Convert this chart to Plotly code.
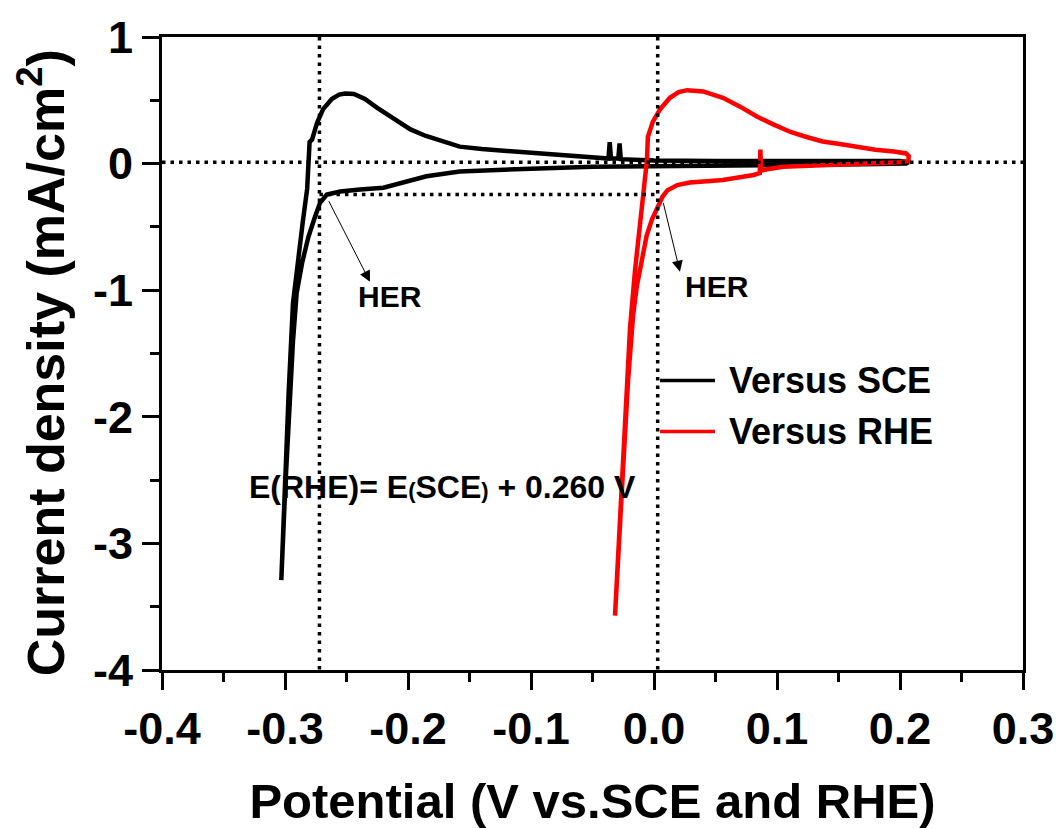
import plotly.graph_objects as go

# Cyclic voltammogram referenced to SCE
sce_potential = [
    -0.303, -0.300, -0.297, -0.2935, -0.2895, -0.2854, -0.282, -0.2805, -0.280,
    -0.278, -0.274, -0.269, -0.262, -0.256, -0.251, -0.244, -0.235, -0.225,
    -0.212, -0.198, -0.186, -0.176, -0.158, -0.140, -0.120, -0.100, -0.080,
    -0.060, -0.045, -0.037, -0.036, -0.035, -0.029, -0.028, -0.027, -0.015,
    0.000, 0.050, 0.100, 0.150, 0.200, 0.207, 0.205, 0.170, 0.120, 0.060,
    0.000, -0.050, -0.100, -0.130, -0.158, -0.185, -0.204, -0.220, -0.239,
    -0.255, -0.266, -0.2715, -0.2756, -0.281, -0.286, -0.2905, -0.2935,
    -0.297, -0.300, -0.303,
]
sce_current = [
    -3.29, -2.50, -1.80, -1.10, -0.75, -0.45, -0.20, 0.00, 0.17,
    0.19, 0.32, 0.43, 0.51, 0.545, 0.554, 0.55, 0.51, 0.44,
    0.36, 0.27, 0.22, 0.19, 0.134, 0.115, 0.10, 0.09, 0.07,
    0.055, 0.045, 0.04, 0.17, 0.04, 0.04, 0.16, 0.035, 0.03,
    0.025, 0.02, 0.02, 0.02, 0.02, 0.01, 0.00, -0.005, -0.008, -0.012,
    -0.018, -0.025, -0.04, -0.05, -0.063, -0.10, -0.15, -0.19, -0.205,
    -0.22, -0.245, -0.31, -0.42, -0.58, -0.78, -1.02, -1.40,
    -2.00, -2.60, -3.29,
]

# Same scan referenced to RHE
rhe_potential = [
    -0.0317, -0.0275, -0.0235, -0.0195, -0.0155, -0.0114, -0.0057, -0.005,
    -0.001, 0.005, 0.013, 0.020, 0.027, 0.040, 0.056, 0.070, 0.084, 0.097,
    0.111, 0.124, 0.137, 0.151, 0.165, 0.180, 0.195, 0.205, 0.207, 0.207,
    0.200, 0.188, 0.160, 0.133, 0.105, 0.092, 0.087, 0.0865, 0.086,
    0.081, 0.070, 0.056, 0.043, 0.029, 0.019, 0.011, 0.007, 0.003,
    -0.0016, -0.006, -0.0098, -0.014, -0.017, -0.021, -0.0245, -0.028, -0.0317,
]
rhe_current = [
    -3.57, -2.80, -2.00, -1.30, -0.85, -0.50, 0.03, 0.21,
    0.33, 0.43, 0.52, 0.565, 0.58, 0.57, 0.52, 0.45, 0.37, 0.31,
    0.25, 0.21, 0.175, 0.155, 0.13, 0.11, 0.095, 0.08, 0.06, 0.02,
    0.01, 0.005, -0.005, -0.015, -0.025, -0.045, -0.055, 0.11, -0.075,
    -0.09, -0.11, -0.13, -0.14, -0.15, -0.17, -0.21, -0.26, -0.34,
    -0.44, -0.57, -0.76, -0.97, -1.20, -1.70, -2.30, -3.00, -3.57,
]

x_tick_vals = [-0.4, -0.3, -0.2, -0.1, 0.0, 0.1, 0.2, 0.3]
x_tick_text = ["-0.4", "-0.3", "-0.2", "-0.1", "0.0", "0.1", "0.2", "0.3"]
y_tick_vals = [1, 0, -1, -2, -3, -4]
y_tick_text = ["1", "0", "-1", "-2", "-3", "-4"]

# Guide lines: onset potentials and current levels
onset_potentials = [-0.272, 0.003]
zero_current = 0.01
onset_current = -0.245

FONT = "Liberation Sans, Arial, sans-serif"
DOT = "3.5px,5px"

fig = go.Figure()
fig.add_trace(go.Scatter(x=sce_potential, y=sce_current, mode="lines",
                         line=dict(color="black", width=4.5), name="Versus SCE",
                         showlegend=False))
fig.add_trace(go.Scatter(x=rhe_potential, y=rhe_current, mode="lines",
                         line=dict(color="#ff0000", width=4.5), name="Versus RHE",
                         showlegend=False))

shapes = []
for xp in onset_potentials:
    shapes.append(dict(type="line", xref="x", yref="y", x0=xp, x1=xp, y0=1, y1=-4,
                       line=dict(color="black", width=3.5, dash=DOT)))
shapes.append(dict(type="line", xref="x", yref="y", x0=-0.4, x1=0.3,
                   y0=zero_current, y1=zero_current,
                   line=dict(color="black", width=3.5, dash=DOT)))
shapes.append(dict(type="line", xref="x", yref="y", x0=onset_potentials[0],
                   x1=onset_potentials[1], y0=onset_current, y1=onset_current,
                   line=dict(color="black", width=3.5, dash=DOT)))

# Hand-made legend
legend_names = ["Versus SCE", "Versus RHE"]
legend_colors = ["black", "#ff0000"]
legend_y = [-1.714, -2.117]
annotations = []
for name, col, ly in zip(legend_names, legend_colors, legend_y):
    shapes.append(dict(type="line", xref="x", yref="y", x0=0.0049, x1=0.0496,
                       y0=ly, y1=ly, line=dict(color=col, width=3.5)))
    annotations.append(dict(x=0.0593, y=ly, xref="x", yref="y", text=name,
                            showarrow=False, xanchor="left", yanchor="middle",
                            font=dict(family=FONT, size=36, color="black",
                                      weight="bold")))

# HER labels with pointer arrows
her_labels = [(-0.2146, -1.05), (0.0512, -0.973)]
her_arrows = [((-0.2309, -0.934), (-0.265, -0.285)),
              ((0.0211, -0.854), (0.0073, -0.30))]
for (tx, ty) in her_labels:
    annotations.append(dict(x=tx, y=ty, xref="x", yref="y", text="HER",
                            showarrow=False, xanchor="center", yanchor="middle",
                            font=dict(family=FONT, size=30, color="black",
                                      weight="bold")))
for (hx, hy), (tx, ty) in her_arrows:
    annotations.append(dict(x=hx, y=hy, ax=tx, ay=ty, xref="x", yref="y",
                            axref="x", ayref="y", text="", showarrow=True,
                            arrowhead=2, arrowsize=2.2, arrowwidth=1,
                            arrowcolor="black"))

annotations.append(dict(
    x=-0.172, y=-2.555, xref="x", yref="y", showarrow=False,
    text="E(RHE)= E<span style='font-size:22px'>(</span>SCE"
         "<span style='font-size:22px'>)</span> + 0.260 V",
    font=dict(family=FONT, size=32, color="black", weight="bold")))

# Y-axis title placed as a rotated annotation
annotations.append(dict(
    x=-0.139, y=0.485, xref="paper", yref="paper", showarrow=False,
    xanchor="center", yanchor="middle", textangle=-90,
    text="Current density (mA/cm<sup>2</sup>)",
    font=dict(family=FONT, size=52, color="black", weight="bold")))

axis_common = dict(
    showline=True, linewidth=3, linecolor="black", mirror=True,
    ticks="outside", ticklen=17, tickwidth=3, tickcolor="black",
    showgrid=False, zeroline=False, automargin=False,
    tickfont=dict(family=FONT, size=45, color="black", weight="bold"),
)

fig.update_layout(
    width=1060, height=828,
    margin=dict(l=162, r=37, t=37, b=158),
    paper_bgcolor="white", plot_bgcolor="white",
    shapes=shapes, annotations=annotations,
    xaxis=dict(range=[-0.4, 0.3], tickvals=x_tick_vals, ticktext=x_tick_text,
               minor=dict(tickvals=[-0.35, -0.25, -0.15, -0.05, 0.05, 0.15, 0.25],
                          ticks="outside", ticklen=9, tickwidth=3,
                          tickcolor="black"),
               title=dict(text="Potential (V vs.SCE and RHE)", standoff=40,
                          font=dict(family=FONT, size=49, color="black",
                                    weight="bold")),
               **axis_common),
    yaxis=dict(range=[-4, 1], tickvals=y_tick_vals, ticktext=y_tick_text,
               minor=dict(tickvals=[0.5, -0.5, -1.5, -2.5, -3.5],
                          ticks="outside", ticklen=9, tickwidth=3,
                          tickcolor="black"),
               **axis_common),
)

fig.write_html("out.html")
